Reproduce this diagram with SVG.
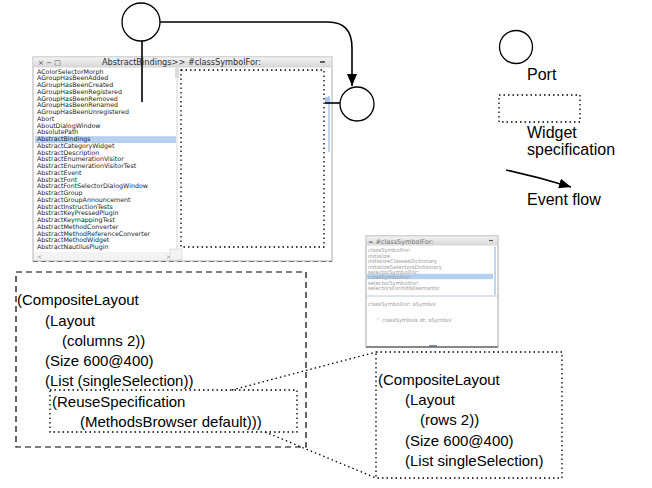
<svg xmlns="http://www.w3.org/2000/svg" width="652" height="488" viewBox="0 0 652 488">
<defs>
<marker id="ah" markerWidth="12" markerHeight="10" refX="12" refY="5" orient="auto" markerUnits="userSpaceOnUse"><path d="M0,0 L12,5 L0,10 z" fill="#000"/></marker>
<linearGradient id="tb" x1="0" y1="0" x2="0" y2="1"><stop offset="0" stop-color="#f2f2f2"/><stop offset="1" stop-color="#d6d6d6"/></linearGradient>
</defs>
<style>
.t{font-family:"Liberation Sans",Arial,Helvetica,sans-serif;font-size:15px;fill:#000}
.lg{font-family:"Liberation Sans",Arial,Helvetica,sans-serif;font-size:16px;fill:#000}
.li{font-family:"DejaVu Sans",sans-serif;font-size:6.3px;fill:#222}
.mi{font-family:"DejaVu Sans",sans-serif;font-size:5.3px;fill:#9a9a9a}
.dash{fill:none;stroke:#000;stroke-width:1.2;stroke-dasharray:6 4}
.dot{fill:none;stroke:#000;stroke-width:1.3;stroke-dasharray:1.5 3}
.port{fill:#fff;stroke:#000;stroke-width:1.3}
.conn{fill:none;stroke:#000;stroke-width:1.6}
</style>
<rect width="652" height="488" fill="#fff"/>

<g id="browser-window">
<rect x="33" y="57" width="299" height="204" fill="#fff" stroke="#b0b0b0"/>
<rect x="33.5" y="57.5" width="298" height="10" fill="url(#tb)"/>
<text x="38" y="65" font-family="DejaVu Sans,sans-serif" font-size="7" fill="#555">× − □</text>
<text x="102" y="65" font-family="DejaVu Sans,sans-serif" font-size="8.2" fill="#333">AbstractBindings&gt;&gt; #classSymbolFor:</text>
<path d="M320,62 h5" stroke="#333" stroke-width="1.5"/>
<rect x="35" y="136.2" width="141" height="6.8" fill="#b4d2f0"/>
<text class="li" x="37" y="73.5">AColorSelectorMorph</text>
<text class="li" x="37" y="80.25">AGroupHasBeenAdded</text>
<text class="li" x="37" y="87">AGroupHasBeenCreated</text>
<text class="li" x="37" y="93.75">AGroupHasBeenRegistered</text>
<text class="li" x="37" y="100.5">AGroupHasBeenRemoved</text>
<text class="li" x="37" y="107.25">AGroupHasBeenRenamed</text>
<text class="li" x="37" y="114">AGroupHasBeenUnregistered</text>
<text class="li" x="37" y="120.75">Abort</text>
<text class="li" x="37" y="127.5">AboutDialogWindow</text>
<text class="li" x="37" y="134.25">AbsolutePath</text>
<text class="li" x="37" y="141">AbstractBindings</text>
<text class="li" x="37" y="147.75">AbstractCategoryWidget</text>
<text class="li" x="37" y="154.5">AbstractDescription</text>
<text class="li" x="37" y="161.25">AbstractEnumerationVisitor</text>
<text class="li" x="37" y="168">AbstractEnumerationVisitorTest</text>
<text class="li" x="37" y="174.75">AbstractEvent</text>
<text class="li" x="37" y="181.5">AbstractFont</text>
<text class="li" x="37" y="188.25">AbstractFontSelectorDialogWindow</text>
<text class="li" x="37" y="195">AbstractGroup</text>
<text class="li" x="37" y="201.75">AbstractGroupAnnouncement</text>
<text class="li" x="37" y="208.5">AbstractInstructionTests</text>
<text class="li" x="37" y="215.25">AbstractKeyPressedPlugin</text>
<text class="li" x="37" y="222">AbstractKeymappingTest</text>
<text class="li" x="37" y="228.75">AbstractMethodConverter</text>
<text class="li" x="37" y="235.5">AbstractMethodReferenceConverter</text>
<text class="li" x="37" y="242.25">AbstractMethodWidget</text>
<text class="li" x="37" y="249">AbstractNautilusPlugin</text>
<line x1="177" y1="67" x2="177" y2="260" stroke="#d4d4d4"/>
<rect x="175" y="68" width="4" height="10" fill="#dcdcdc"/>
<rect x="34" y="252" width="143" height="8" fill="#f3f3f3"/>
<text x="37" y="258.5" font-family="DejaVu Sans,sans-serif" font-size="6" fill="#888">&lt;</text>
<text x="166" y="258.5" font-family="DejaVu Sans,sans-serif" font-size="6" fill="#888">&gt;</text>
<rect x="170" y="249" width="12" height="11" fill="#f3f3f3" stroke="#d0d0d0" stroke-width="0.6"/>
<line x1="329" y1="96" x2="329" y2="152" stroke="#a8c8ee" stroke-width="1.5"/>
<rect x="325" y="97" width="5" height="7" fill="#a8c8ee"/>
<line x1="33" y1="261.5" x2="332" y2="261.5" stroke="#777" stroke-width="1.2" stroke-dasharray="5 3"/>
<rect class="dot" x="181" y="70" width="143" height="177"/>
</g>

<g id="methods-window">
<rect x="366" y="236" width="132" height="111" fill="#fff" stroke="#a8a8a8"/>
<rect x="366.5" y="236.5" width="131" height="9" fill="url(#tb)"/>
<text x="368" y="243.5" font-family="DejaVu Sans,sans-serif" font-size="6.5" fill="#777">= #classSymbolFor:</text>
<path d="M489,240.5 h4" stroke="#555" stroke-width="1.2"/>
<rect x="367" y="273.8" width="126" height="5.4" fill="#b4d2f0"/>
<text class="mi" x="368" y="252">classSymbolFor:</text>
<text class="mi" x="368" y="257.5">initialize</text>
<text class="mi" x="368" y="263">initializeClassesDictionary</text>
<text class="mi" x="368" y="268.5">initializeSelectorsDictionary</text>
<text class="mi" x="368" y="274">selectorSymbolFor:</text>
<text class="mi" x="368" y="279">classSymbolFor:</text>
<text class="mi" x="368" y="284.5">selectorSymbolFor:</text>
<text class="mi" x="368" y="290">selectorsForInitNilsemantic</text>
<line x1="495" y1="247" x2="495" y2="295" stroke="#a8c8ee" stroke-width="1.5"/>
<line x1="366" y1="296" x2="498" y2="296" stroke="#b8c8dc"/>
<text class="mi" x="368" y="306">classSymbolFor: aSymbol</text>
<text class="mi" x="376" y="322">^ classSymbols at: aSymbol</text>
<line x1="366" y1="347" x2="498" y2="347" stroke="#888" stroke-width="2"/>
<line x1="429" y1="346" x2="437" y2="346" stroke="#5a6a90" stroke-width="1.5"/>
</g>

<g id="connectors">
<path class="conn" d="M142,41 V102" stroke-width="1.4"/>
<path class="conn" d="M160,22 H328 C345,22 352,31 352,48 V86" marker-end="url(#ah)"/>
<path class="conn" d="M325,103 H340" stroke-width="2"/>
<path class="conn" d="M506,170 Q538,177 571,187" marker-end="url(#ah)"/>
<path class="dot" d="M232,390 L376,352"/>
<path class="dot" d="M265,432 L376,478"/>
</g>

<g id="port-top"><circle class="port" cx="141" cy="22" r="19"/></g>
<g id="port-right"><circle class="port" cx="357" cy="104" r="17"/></g>

<g id="composite-columns">
<rect class="dash" x="16" y="272" width="290" height="175"/>
<text class="t" x="17" y="305">(CompositeLayout</text>
<text class="t" x="45" y="325.5">(Layout</text>
<text class="t" x="62" y="346">(columns 2))</text>
<text class="t" x="45" y="366">(Size 600@400)</text>
<text class="t" x="45" y="386">(List (singleSelection))</text>
</g>

<g id="reuse-spec">
<rect class="dot" x="50" y="390" width="247" height="42"/>
<text class="t" x="52" y="407">(ReuseSpecification</text>
<text class="t" x="80" y="427">(MethodsBrowser default)))</text>
</g>

<g id="composite-rows">
<rect class="dot" x="376" y="352" width="186" height="126"/>
<text class="t" x="378" y="385">(CompositeLayout</text>
<text class="t" x="405" y="405">(Layout</text>
<text class="t" x="420" y="425">(rows 2))</text>
<text class="t" x="405" y="446">(Size 600@400)</text>
<text class="t" x="405" y="466">(List singleSelection)</text>
</g>

<g id="legend-port">
<circle class="port" cx="516" cy="47" r="16.5"/>
<text class="lg" x="527" y="80">Port</text>
</g>
<g id="legend-widget">
<rect class="dot" x="499" y="95" width="81" height="27"/>
<text class="lg" x="527" y="138">Widget</text>
<text class="lg" x="527" y="155">specification</text>
</g>
<g id="legend-flow">
<text class="lg" x="527" y="205">Event flow</text>
</g>
</svg>
